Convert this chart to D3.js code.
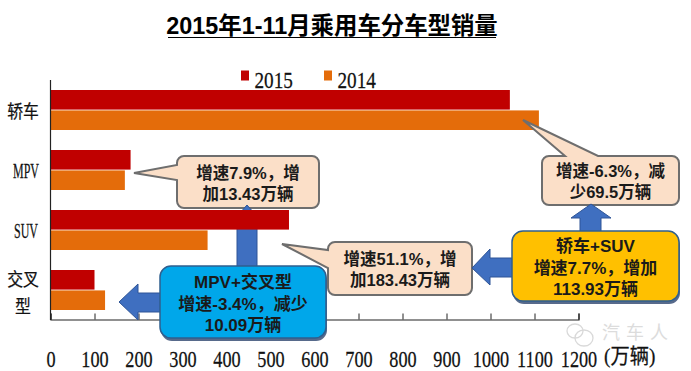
<!DOCTYPE html>
<html>
<head>
<meta charset="utf-8">
<title>2015年1-11月乘用车分车型销量</title>
<script src="https://cdn.jsdelivr.net/npm/d3@7"></script>
<style>
    html, body { margin: 0; padding: 0; background: #fff; }
    svg { display: block; }
    .serif { font-family: "Liberation Serif", "Noto Sans CJK SC", serif; fill: #111; stroke: #111; stroke-width: 0.25px; }
    .note { font-family: "Liberation Sans", "Noto Sans CJK SC", sans-serif; font-weight: bold; font-size: 16.5px; fill: #1a1a1a; text-anchor: middle; }
</style>
</head>
<body>
<div id="chart"></div>
<script>
const categories = ['轿车', 'MPV', 'SUV', '交叉型'];
const years = ['2015', '2014'];
const sales2015 = [1044, 182, 542, 100];
const sales2014 = [1110, 169, 357, 124];
const xTicks = d3.range(0, 1201, 100);

const width = 691, height = 371;
const colors = { 2015: '#c00000', 2014: '#e46c0a' };

const svg = d3.select('#chart').append('svg').attr('width', width).attr('height', height);

const x = d3.scaleLinear().domain([0, 1200]).range([50.5, 578.5]);
const y = d3.scaleBand().domain(categories).range([80, 320]);
const yInner = d3.scaleBand().domain(years).range([10, 50]).paddingInner(0.04);

// title
svg.append('text').attr('x', 332).attr('y', 34).attr('text-anchor', 'middle')
    .style('font', 'bold 23.4px "Liberation Sans", "Noto Sans CJK SC", sans-serif')
    .style('fill', '#000')
    .text('2015年1-11月乘用车分车型销量');
svg.append('line').attr('x1', 168).attr('x2', 496).attr('y1', 37.5).attr('y2', 37.5)
    .attr('stroke', '#000').attr('stroke-width', 1.2);

const arrow = d3.line();
const arrowFill = '#3f6fc0', arrowStroke = '#2f5597';
function drawArrow(g, pts) {
    g.append('path').attr('d', arrow(pts) + 'Z').attr('fill', arrowFill).attr('stroke', arrowStroke).attr('stroke-width', 1);
}

// speech bubbles
function drawBubble(g, bx, by, w, h, tail, lines) {
    const r = 7;
    const p = d3.path();
    p.moveTo(bx + r, by);
    if (tail.side === 'top') { p.lineTo(tail.a, by); p.lineTo(tail.x, tail.y); p.lineTo(tail.b, by); }
    p.lineTo(bx + w - r, by);
    p.arcTo(bx + w, by, bx + w, by + r, r);
    p.lineTo(bx + w, by + h - r);
    p.arcTo(bx + w, by + h, bx + w - r, by + h, r);
    p.lineTo(bx + r, by + h);
    p.arcTo(bx, by + h, bx, by + h - r, r);
    if (tail.side === 'left') { p.lineTo(bx, tail.b); p.lineTo(tail.x, tail.y); p.lineTo(bx, tail.a); }
    p.lineTo(bx, by + r);
    p.arcTo(bx, by, bx + r, by, r);
    p.closePath();
    g.append('path').attr('d', p.toString()).attr('fill', '#fbdfc8').attr('stroke', '#6e6e6e').attr('stroke-width', 2);
    lines.forEach((l, i) => {
        g.append('text').attr('class', 'note').attr('x', bx + w / 2).attr('y', by + h / 2 - 3.5 + i * 21).text(l);
    });
}

// this bubble and the up arrow sit behind the bars
const back = svg.append('g');
drawBubble(back, 177, 156, 142, 52, { side: 'left', x: 134, y: 173, a: 165, b: 180 }, ['增速7.9%，增', '加13.43万辆']);
drawArrow(back, [[247, 205], [262, 222], [257, 222], [257, 268], [237, 268], [237, 222], [232, 222]]);

// bars
const rows = categories.map((c, i) => ({ c, v2015: sales2015[i], v2014: sales2014[i] }));
const barGroup = svg.append('g').selectAll('g').data(rows).join('g')
    .attr('transform', d => `translate(0,${y(d.c)})`);
years.forEach(yr => {
    barGroup.append('rect')
        .attr('x', x(0))
        .attr('y', yInner(yr))
        .attr('width', d => x(d['v' + yr]) - x(0))
        .attr('height', yInner.bandwidth())
        .attr('fill', colors[yr]);
});

// axes
const xAxis = d3.axisBottom(x).tickValues(xTicks).tickSize(-6).tickPadding(30).tickFormat(d3.format('d'));
const gx = svg.append('g').attr('transform', 'translate(0,319.5)').call(xAxis);
gx.select('.domain').attr('stroke', '#222').attr('stroke-width', 1.2);
gx.selectAll('.tick line').attr('stroke', '#222');
gx.selectAll('text').attr('class', 'serif').style('font-size', '24px').attr('transform', 'scale(0.76,1)');
svg.append('line').attr('x1', 50.5).attr('x2', 50.5).attr('y1', 80).attr('y2', 320).attr('stroke', '#222').attr('stroke-width', 1.2);

// category labels, 交叉型 wraps on two lines
categories.forEach(c => {
    const cy = y(c) + y.bandwidth() / 2;
    const t = svg.append('g').attr('class', 'serif').attr('text-anchor', 'middle').style('font-size', '18px');
    if (c === '交叉型') {
        t.append('text').attr('transform', `translate(23,${cy - 4}) scale(0.88,1)`).text('交叉');
        t.append('text').attr('transform', `translate(23,${cy + 23}) scale(0.88,1)`).text('型');
    } else if (c === '轿车') {
        t.append('text').attr('transform', `translate(23,${cy + 7.5}) scale(0.88,1)`).text(c);
    } else {
        t.append('text').attr('transform', `translate(26,${cy + 8}) scale(0.6,1)`).style('font-size', '20px').text(c);
    }
});

// legend
const legendX = { 2015: 241, 2014: 324 };
years.forEach(yr => {
    svg.append('rect').attr('x', legendX[yr]).attr('y', 70.5).attr('width', 8).attr('height', 10).attr('fill', colors[yr]);
    svg.append('text').attr('class', 'serif').style('font-size', '24px')
        .attr('transform', `translate(${legendX[yr] + 13.5},88) scale(0.8,1)`).text(yr);
});

// watermark
const mark = svg.append('g').attr('fill', 'none').attr('stroke', '#d9d9d9').attr('stroke-width', 1.3);
mark.append('ellipse').attr('cx', 575).attr('cy', 331).attr('rx', 8).attr('ry', 7);
mark.append('ellipse').attr('cx', 584).attr('cy', 338).attr('rx', 9).attr('ry', 8);
svg.append('text').attr('x', 602).attr('y', 339).style('font', '18px "Noto Sans CJK SC", sans-serif')
    .style('letter-spacing', '6px').style('fill', '#dcdcdc').text('汽车人');

svg.append('text').attr('class', 'serif').style('font-size', '21px')
    .attr('transform', 'translate(604,363) scale(0.92,1)').text('(万辆)');

const front = svg.append('g');
drawBubble(front, 542, 156, 137, 49, { side: 'top', x: 523, y: 120, a: 565, b: 598 }, ['增速-6.3%，减', '少69.5万辆']);
drawBubble(front, 328, 242, 144, 53, { side: 'left', x: 282, y: 244, a: 250, b: 268 }, ['增速51.1%，增', '加183.43万辆']);

// arrows in front of the bubbles
drawArrow(front, [[119, 302], [138, 284], [138, 293], [162, 293], [162, 312], [138, 312], [138, 320]]);
drawArrow(front, [[472, 268], [490, 249], [490, 258], [514, 258], [514, 277], [490, 277], [490, 285]]);
drawArrow(front, [[591, 204], [611, 218], [601, 218], [601, 233], [580, 233], [580, 218], [571, 218]]);

// summary boxes
function drawBox(bx, by, w, h, fill, lines, firstBase) {
    svg.append('rect').attr('x', bx + 1).attr('y', by + 3).attr('width', w).attr('height', h).attr('rx', 11)
        .attr('fill', '#1f3864').attr('opacity', 0.75);
    svg.append('rect').attr('x', bx).attr('y', by).attr('width', w).attr('height', h).attr('rx', 11)
        .attr('fill', fill).attr('stroke', '#2f5f8f').attr('stroke-width', 1.5);
    lines.forEach((l, i) => {
        svg.append('text').attr('class', 'note').style('font-size', '17px')
            .attr('x', bx + w / 2).attr('y', firstBase + i * 21.7).text(l);
    });
}
drawBox(160, 266, 166, 72, '#00a7ea', ['MPV+交叉型', '增速-3.4%，减少', '10.09万辆'], 288);
drawBox(512, 231, 167, 70, '#ffc000', ['轿车+SUV', '增速7.7%，增加', '113.93万辆'], 252);
</script>
</body>
</html>
